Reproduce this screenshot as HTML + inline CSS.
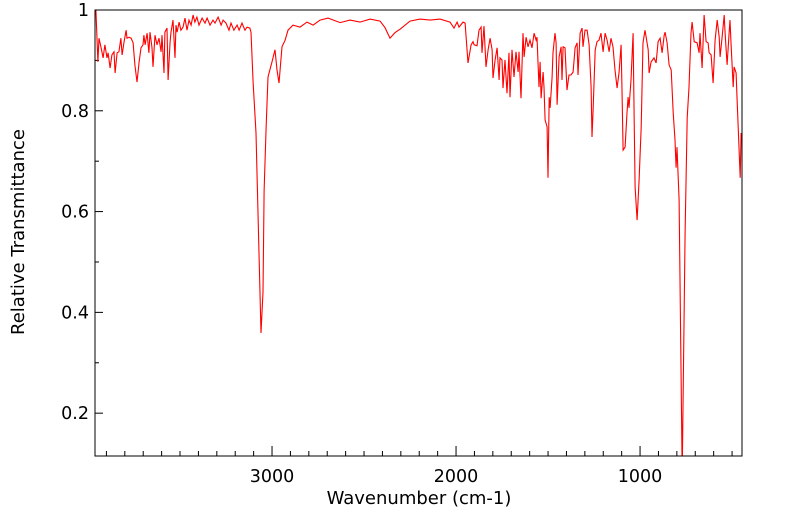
<!DOCTYPE html>
<html><head><meta charset="utf-8"><style>
html,body{margin:0;padding:0;background:#fff;}
svg{display:block;font-family:"DejaVu Sans","Liberation Sans",sans-serif;}
</style></head><body>
<svg id="chart" width="799" height="516" viewBox="0 0 799 516" xmlns="http://www.w3.org/2000/svg">
<rect x="0" y="0" width="799" height="516" fill="#fff"/>
<g id="ticks"></g>
<g id="labels"></g>
<g id="series"></g>
<rect x="95" y="10" width="647" height="446" fill="none" stroke="#000" stroke-width="1"/>
<text x="419" y="504" font-size="18" text-anchor="middle">Wavenumber (cm-1)</text>
<text x="0" y="0" font-size="18" text-anchor="middle" transform="translate(24,232) rotate(-90)">Relative Transmittance</text>
</svg>
<script>
const wavenumbers = [3957,3946,3940,3929,3918,3908,3897,3891,3880,3870,3859,3853,3842,3832,3821,3815,3804,3793,3788,3777,3766,3755,3745,3734,3723,3712,3701,3696,3690,3679,3669,3663,3652,3647,3636,3625,3614,3603,3598,3587,3582,3571,3565,3554,3549,3538,3527,3522,3516,3505,3495,3484,3473,3462,3451,3440,3429,3419,3408,3397,3380,3364,3353,3337,3321,3310,3293,3277,3266,3250,3234,3223,3207,3190,3179,3163,3147,3136,3120,3114,3103,3087,3060,3049,3043,3033,3022,3000,2984,2973,2962,2946,2929,2913,2886,2848,2810,2777,2739,2696,2630,2576,2522,2467,2413,2386,2359,2332,2304,2250,2196,2141,2087,2033,2011,1994,1984,1962,1951,1935,1918,1908,1902,1886,1875,1864,1859,1848,1837,1826,1815,1804,1799,1788,1777,1766,1761,1750,1745,1734,1723,1712,1707,1696,1685,1674,1663,1658,1647,1636,1630,1619,1609,1598,1587,1576,1565,1560,1549,1543,1538,1527,1522,1516,1505,1500,1494,1489,1478,1473,1462,1456,1451,1440,1429,1424,1418,1408,1397,1386,1375,1364,1353,1342,1337,1326,1315,1310,1299,1288,1277,1266,1261,1255,1244,1234,1223,1212,1201,1190,1179,1168,1158,1147,1136,1125,1114,1103,1098,1092,1081,1071,1065,1060,1049,1038,1033,1027,1016,1005,994,984,973,956,951,940,924,913,902,891,880,869,864,853,842,831,820,810,804,799,788,771,755,744,734,723,717,706,690,679,674,663,652,641,630,625,614,603,592,581,570,565,554,543,538,527,516,511,505,494,489,478,473,462,456,451];
const transmittance = [1.000,0.897,0.944,0.925,0.905,0.931,0.905,0.915,0.885,0.911,0.917,0.875,0.915,0.917,0.944,0.911,0.937,0.960,0.944,0.946,0.944,0.935,0.891,0.857,0.895,0.925,0.931,0.950,0.931,0.954,0.915,0.956,0.925,0.887,0.950,0.931,0.944,0.917,0.950,0.875,0.956,0.964,0.861,0.937,0.956,0.980,0.905,0.970,0.956,0.976,0.960,0.966,0.984,0.960,0.980,0.970,0.990,0.976,0.986,0.970,0.984,0.974,0.984,0.970,0.980,0.974,0.986,0.970,0.980,0.974,0.960,0.974,0.960,0.970,0.960,0.974,0.960,0.966,0.964,0.956,0.857,0.756,0.359,0.440,0.640,0.760,0.867,0.897,0.921,0.881,0.855,0.927,0.940,0.960,0.970,0.966,0.976,0.970,0.980,0.984,0.975,0.980,0.976,0.982,0.978,0.965,0.944,0.955,0.962,0.978,0.982,0.980,0.982,0.976,0.964,0.976,0.966,0.976,0.974,0.895,0.931,0.937,0.931,0.929,0.960,0.966,0.915,0.968,0.887,0.921,0.944,0.921,0.865,0.901,0.925,0.861,0.905,0.901,0.845,0.901,0.835,0.915,0.827,0.921,0.867,0.917,0.877,0.917,0.825,0.954,0.907,0.946,0.927,0.940,0.925,0.954,0.940,0.946,0.847,0.897,0.825,0.877,0.847,0.782,0.768,0.667,0.827,0.806,0.867,0.915,0.954,0.935,0.812,0.907,0.927,0.861,0.927,0.925,0.841,0.871,0.871,0.877,0.925,0.935,0.871,0.954,0.964,0.927,0.960,0.960,0.931,0.847,0.748,0.802,0.921,0.937,0.940,0.954,0.917,0.954,0.940,0.917,0.944,0.927,0.881,0.845,0.877,0.931,0.841,0.722,0.728,0.796,0.827,0.806,0.861,0.954,0.808,0.649,0.583,0.663,0.768,0.935,0.960,0.921,0.875,0.897,0.905,0.895,0.937,0.944,0.915,0.950,0.956,0.935,0.891,0.881,0.796,0.742,0.687,0.728,0.623,0.080,0.558,0.786,0.847,0.954,0.976,0.937,0.935,0.915,0.954,0.885,0.990,0.937,0.935,0.915,0.911,0.855,0.940,0.980,0.946,0.907,0.946,0.990,0.954,0.891,0.954,0.980,0.931,0.847,0.887,0.875,0.827,0.722,0.667,0.756,0.812];
const xMajorTicks = [3000,2000,1000];
const xTickLabels = ["3000","2000","1000"];
const yMajorTicks = [0.2,0.4,0.6,0.8,1.0];
const yTickLabels = ["0.2","0.4","0.6","0.8","1"];

const L=95,R=742,T=10,B=456, WMAX=3962, WMIN=446, YMIN=0.115, YMAX=1.0;
function xs(w){return L+(WMAX-w)/(WMAX-WMIN)*(R-L);}
function ys(v){return B-(v-YMIN)/(YMAX-YMIN)*(B-T);}
const NS="http://www.w3.org/2000/svg";
const tg=document.getElementById('ticks'), lg=document.getElementById('labels'), sg=document.getElementById('series');
function line(x1,y1,x2,y2,name){
  const l=document.createElementNS(NS,'line');
  l.setAttribute('x1',x1);l.setAttribute('y1',y1);l.setAttribute('x2',x2);l.setAttribute('y2',y2);
  l.setAttribute('stroke','#000');l.setAttribute('stroke-width','1');
  
  
  tg.appendChild(l);
}
for(let w=500; w<=3900; w+=100){
  const major = w%1000===0;
  line(xs(w),B,xs(w),B-(major?10:5), major?'x-major-tick':'x-minor-tick');
}
for(let v=0.2; v<=1.001; v+=0.1){
  const major = Math.round(v*10)%2===0;
  line(L,ys(v),L+(major?8:4),ys(v), major?'y-major-tick':'y-minor-tick');
}
xMajorTicks.forEach((w,i)=>{
  const t=document.createElementNS(NS,'text');
  t.setAttribute('x',xs(w));t.setAttribute('y',482);t.setAttribute('font-size','17.5');t.setAttribute('text-anchor','middle');
  t.textContent=xTickLabels[i];
  
  
  lg.appendChild(t);
});
yMajorTicks.forEach((v,i)=>{
  const t=document.createElementNS(NS,'text');
  t.setAttribute('x',89);t.setAttribute('y',ys(v)+6);t.setAttribute('font-size','17.5');t.setAttribute('text-anchor','end');
  t.textContent=yTickLabels[i];
  
  
  lg.appendChild(t);
});
const cp=document.createElementNS(NS,'clipPath');cp.setAttribute('id','clip');
const cr=document.createElementNS(NS,'rect');cr.setAttribute('x',L);cr.setAttribute('y',T);cr.setAttribute('width',R-L);cr.setAttribute('height',B-T);
cp.appendChild(cr);document.getElementById('chart').appendChild(cp);
const p=document.createElementNS(NS,'path');
p.setAttribute('d',wavenumbers.map((w,i)=>(i?'L':'M')+xs(w).toFixed(1)+','+ys(transmittance[i]).toFixed(1)).join(''));
p.setAttribute('fill','none');p.setAttribute('stroke','#ff0000');p.setAttribute('stroke-width','1.1');
p.setAttribute('clip-path','url(#clip)');


sg.appendChild(p);
</script>
</body></html>
